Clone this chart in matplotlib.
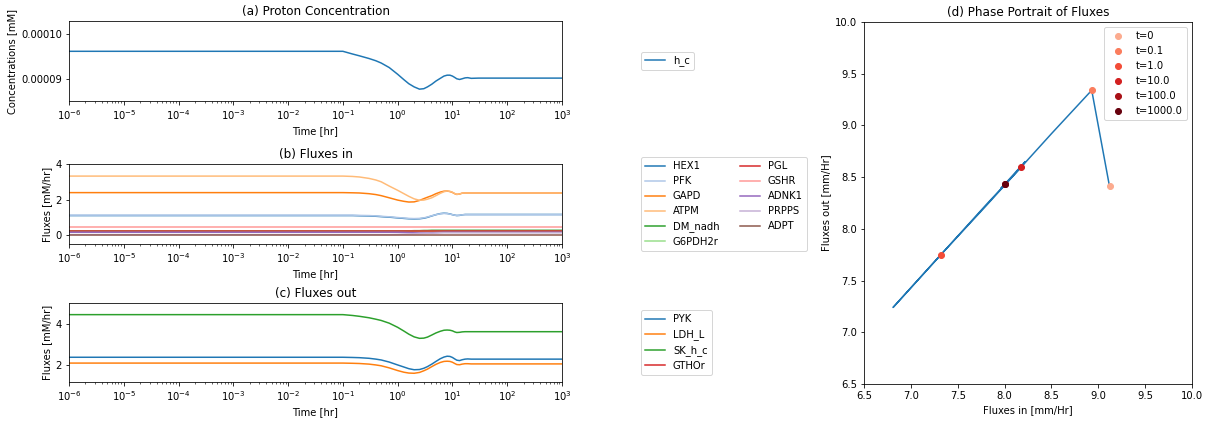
import matplotlib
matplotlib.use("Agg")
import matplotlib.pyplot as plt
import numpy as np

# ---------------- data ----------------
time_hr = [1e-6, 0.1, 0.15, 0.2, 0.3, 0.4, 0.5, 0.7, 1.0, 1.3, 1.6, 2.0, 2.5, 3.0,
           3.5, 4.2, 5.0, 6.0, 7.0, 8.0, 9.0, 10.0, 11.0, 12.0, 13.5, 15.0, 17.0,
           19.0, 22.0, 30.0, 1000.0]

h_c = [9.61e-5, 9.61e-5, 9.55e-5, 9.51e-5, 9.45e-5, 9.40e-5, 9.35e-5, 9.25e-5, 9.10e-5,
       8.98e-5, 8.89e-5, 8.82e-5, 8.77e-5, 8.78e-5, 8.82e-5, 8.88e-5, 8.95e-5, 9.01e-5,
       9.06e-5, 9.08e-5, 9.08e-5, 9.06e-5, 9.03e-5, 9.00e-5, 8.985e-5, 9.00e-5, 9.02e-5,
       9.025e-5, 9.01e-5, 9.015e-5, 9.015e-5]

HEX1 = [1.10, 1.10, 1.10, 1.09, 1.08, 1.06, 1.04, 1.01, 0.97, 0.94, 0.92, 0.91, 0.92, 0.95,
        1.00, 1.08, 1.15, 1.21, 1.23, 1.22, 1.19, 1.15, 1.12, 1.10, 1.11, 1.14, 1.16,
        1.16, 1.16, 1.16, 1.16]
PFK = [1.12, 1.12, 1.12, 1.11, 1.10, 1.08, 1.06, 1.03, 0.99, 0.96, 0.94, 0.93, 0.94, 0.97,
       1.02, 1.09, 1.15, 1.20, 1.22, 1.21, 1.18, 1.15, 1.12, 1.11, 1.12, 1.14, 1.15,
       1.15, 1.15, 1.15, 1.15]
GAPD = [2.39, 2.39, 2.38, 2.37, 2.33, 2.28, 2.22, 2.10, 1.97, 1.90, 1.86, 1.87, 1.95, 2.05,
        2.13, 2.22, 2.33, 2.42, 2.47, 2.48, 2.45, 2.40, 2.33, 2.29, 2.31, 2.36, 2.37,
        2.37, 2.37, 2.37, 2.37]
ATPM = [3.32, 3.32, 3.30, 3.27, 3.19, 3.10, 3.00, 2.76, 2.52, 2.33, 2.18, 2.04, 1.96, 1.97,
        2.02, 2.10, 2.22, 2.35, 2.44, 2.48, 2.46, 2.41, 2.34, 2.29, 2.31, 2.36, 2.37,
        2.37, 2.37, 2.37, 2.37]
DM_nadh = [0.23, 0.23, 0.23, 0.23, 0.23, 0.23, 0.23, 0.23, 0.23, 0.24, 0.24, 0.25, 0.25, 0.26,
           0.26, 0.27, 0.27, 0.27, 0.27, 0.27, 0.27, 0.27, 0.27, 0.27, 0.27, 0.27, 0.27,
           0.27, 0.27, 0.27, 0.27]
G6PDH2r = [0.21, 0.21, 0.21, 0.21, 0.21, 0.21, 0.21, 0.21, 0.21, 0.21, 0.21, 0.21, 0.21, 0.21,
           0.21, 0.21, 0.21, 0.21, 0.21, 0.21, 0.21, 0.21, 0.21, 0.21, 0.21, 0.21, 0.21,
           0.21, 0.21, 0.21, 0.21]
PGL = [0.22, 0.22, 0.22, 0.22, 0.22, 0.22, 0.22, 0.22, 0.22, 0.22, 0.22, 0.22, 0.22, 0.22,
       0.22, 0.22, 0.22, 0.22, 0.22, 0.22, 0.22, 0.22, 0.22, 0.22, 0.22, 0.22, 0.22,
       0.22, 0.22, 0.22, 0.22]
GSHR = [0.44, 0.44, 0.44, 0.44, 0.44, 0.44, 0.44, 0.44, 0.44, 0.44, 0.44, 0.44, 0.44, 0.44,
        0.44, 0.44, 0.44, 0.44, 0.44, 0.44, 0.44, 0.44, 0.44, 0.44, 0.44, 0.44, 0.44,
        0.44, 0.44, 0.44, 0.44]
ADNK1 = [0.16, 0.16, 0.16, 0.16, 0.16, 0.16, 0.16, 0.16, 0.16, 0.15, 0.14, 0.13, 0.12, 0.12,
         0.12, 0.13, 0.14, 0.15, 0.16, 0.16, 0.16, 0.16, 0.16, 0.16, 0.16, 0.16, 0.16,
         0.16, 0.16, 0.16, 0.16]
PRPPS = [0.03, 0.03, 0.03, 0.03, 0.03, 0.03, 0.03, 0.03, 0.04, 0.05, 0.06, 0.07, 0.08, 0.09,
         0.10, 0.11, 0.12, 0.13, 0.13, 0.13, 0.13, 0.13, 0.13, 0.13, 0.13, 0.13, 0.13,
         0.13, 0.13, 0.13, 0.13]
ADPT = [0.01, 0.01, 0.01, 0.01, 0.01, 0.01, 0.01, 0.01, 0.01, 0.01, 0.01, 0.01, 0.01, 0.01,
        0.01, 0.01, 0.01, 0.01, 0.01, 0.01, 0.01, 0.01, 0.01, 0.01, 0.01, 0.01, 0.01,
        0.01, 0.01, 0.01, 0.01]

PYK = [2.39, 2.39, 2.38, 2.37, 2.34, 2.30, 2.26, 2.16, 2.02, 1.92, 1.84, 1.79, 1.80, 1.86,
       1.94, 2.06, 2.19, 2.32, 2.40, 2.44, 2.43, 2.38, 2.31, 2.25, 2.23, 2.27, 2.30,
       2.31, 2.30, 2.30, 2.30]
LDH_L = [2.11, 2.11, 2.10, 2.09, 2.06, 2.02, 1.98, 1.88, 1.75, 1.67, 1.63, 1.62, 1.66, 1.74,
         1.82, 1.94, 2.05, 2.14, 2.19, 2.20, 2.19, 2.15, 2.09, 2.04, 2.03, 2.06, 2.08,
         2.08, 2.07, 2.07, 2.07]
SK_h_c = [4.44, 4.44, 4.40, 4.36, 4.29, 4.22, 4.16, 4.03, 3.83, 3.65, 3.50, 3.37, 3.30, 3.31,
          3.36, 3.46, 3.56, 3.64, 3.69, 3.70, 3.69, 3.66, 3.61, 3.58, 3.59, 3.61, 3.62,
          3.62, 3.62, 3.62, 3.62]
GTHOr = [0.40, 0.40, 0.40, 0.40, 0.40, 0.40, 0.40, 0.40, 0.40, 0.40, 0.40, 0.40, 0.40, 0.40,
         0.40, 0.40, 0.40, 0.40, 0.40, 0.40, 0.40, 0.40, 0.40, 0.40, 0.40, 0.40, 0.40,
         0.40, 0.40, 0.40, 0.40]

flux_in_names = ["HEX1", "PFK", "GAPD", "ATPM", "DM_nadh", "G6PDH2r",
                 "PGL", "GSHR", "ADNK1", "PRPPS", "ADPT"]
flux_in_values = [HEX1, PFK, GAPD, ATPM, DM_nadh, G6PDH2r, PGL, GSHR, ADNK1, PRPPS, ADPT]
flux_out_names = ["PYK", "LDH_L", "SK_h_c", "GTHOr"]
flux_out_values = [PYK, LDH_L, SK_h_c, GTHOr]

# phase portrait trajectory (sum of fluxes in vs out)
phase_in = [9.12, 8.93, 8.50, 7.80, 7.32, 6.95, 6.81, 7.20, 7.80, 8.18, 8.22, 8.10, 7.96, 8.02, 8.00]
phase_out = [8.41, 9.34, 8.92, 8.22, 7.75, 7.38, 7.24, 7.63, 8.23, 8.60, 8.65, 8.53, 8.39, 8.45, 8.43]
marker_labels = ["t=0", "t=0.1", "t=1.0", "t=10.0", "t=100.0", "t=1000.0"]
marker_in = [9.12, 8.93, 7.32, 8.18, 8.00, 8.00]
marker_out = [8.41, 9.34, 7.75, 8.60, 8.43, 8.43]

h_ticks = [0.00009, 0.00010]
in_ticks = [0, 2, 4]
out_ticks = [2, 4]
phase_ticks = [6.5, 7.0, 7.5, 8.0, 8.5, 9.0, 9.5, 10.0]

# ---------------- figure ----------------
W, H = 1210, 424
fig = plt.figure(figsize=(W / 72, H / 72), dpi=72)

def px_axes(left, top, right, bottom):
    return fig.add_axes([left / W, 1 - bottom / H, (right - left) / W, (bottom - top) / H])

ax_a = px_axes(69, 21, 562, 101)
ax_b = px_axes(69, 164, 562, 244)
ax_c = px_axes(69, 303, 562, 382)
ax_d = px_axes(864, 22, 1192, 384)

# (a)
ax_a.plot(time_hr, h_c, color="tab:blue", label="h_c")
ax_a.set_xscale("log")
ax_a.set_xlim(1e-6, 1e3)
ax_a.set_ylim(min(h_c) * 0.97, max(h_c) * 1.07)
ax_a.set_yticks(h_ticks)
ax_a.set_yticklabels(["0.00009", "0.00010"])
ax_a.set_xlabel("Time [hr]")
ax_a.set_ylabel("Concentrations [mM]")
ax_a.set_title("(a) Proton Concentration", fontsize=12)
ax_a.legend(loc="center left", bbox_to_anchor=(1.15, 0.5))

# (b)
cmap20 = plt.get_cmap("tab20")
for i, (name, vals) in enumerate(zip(flux_in_names, flux_in_values)):
    ax_b.plot(time_hr, vals, color=cmap20(i), label=name)
ax_b.set_xscale("log")
ax_b.set_xlim(1e-6, 1e3)
ax_b.set_ylim(-0.5, 4.0)
ax_b.set_yticks(in_ticks)
ax_b.set_xlabel("Time [hr]")
ax_b.set_ylabel("Fluxes [mM/hr]")
ax_b.set_title("(b) Fluxes in", fontsize=12)
ax_b.legend(loc="center left", bbox_to_anchor=(1.15, 0.5), ncol=2)

# (c)
cmap10 = plt.get_cmap("tab10")
for i, (name, vals) in enumerate(zip(flux_out_names, flux_out_values)):
    ax_c.plot(time_hr, vals, color=cmap10(i), label=name)
ax_c.set_xscale("log")
ax_c.set_xlim(1e-6, 1e3)
ax_c.set_ylim(1.2, 5.0)
ax_c.set_yticks(out_ticks)
ax_c.set_xlabel("Time [hr]")
ax_c.set_ylabel("Fluxes [mM/hr]")
ax_c.set_title("(c) Fluxes out", fontsize=12)
ax_c.legend(loc="center left", bbox_to_anchor=(1.15, 0.5))

# (d)
ax_d.plot(phase_in, phase_out, color="tab:blue")
reds = plt.get_cmap("Reds")
shades = np.linspace(0.3, 1.0, len(marker_labels))
for lab, xi, yo, s in zip(marker_labels, marker_in, marker_out, shades):
    ax_d.scatter(xi, yo, color=reds(s), label=lab, zorder=3)
ax_d.set_xlim(6.5, 10.0)
ax_d.set_ylim(6.5, 10.0)
ax_d.set_xticks(phase_ticks)
ax_d.set_yticks(phase_ticks)
ax_d.set_xlabel("Fluxes in [mm/Hr]")
ax_d.set_ylabel("Fluxes out [mm/Hr]")
ax_d.set_title("(d) Phase Portrait of Fluxes", fontsize=12)
ax_d.legend(loc="upper right")

fig.savefig("out.png", dpi=72)
